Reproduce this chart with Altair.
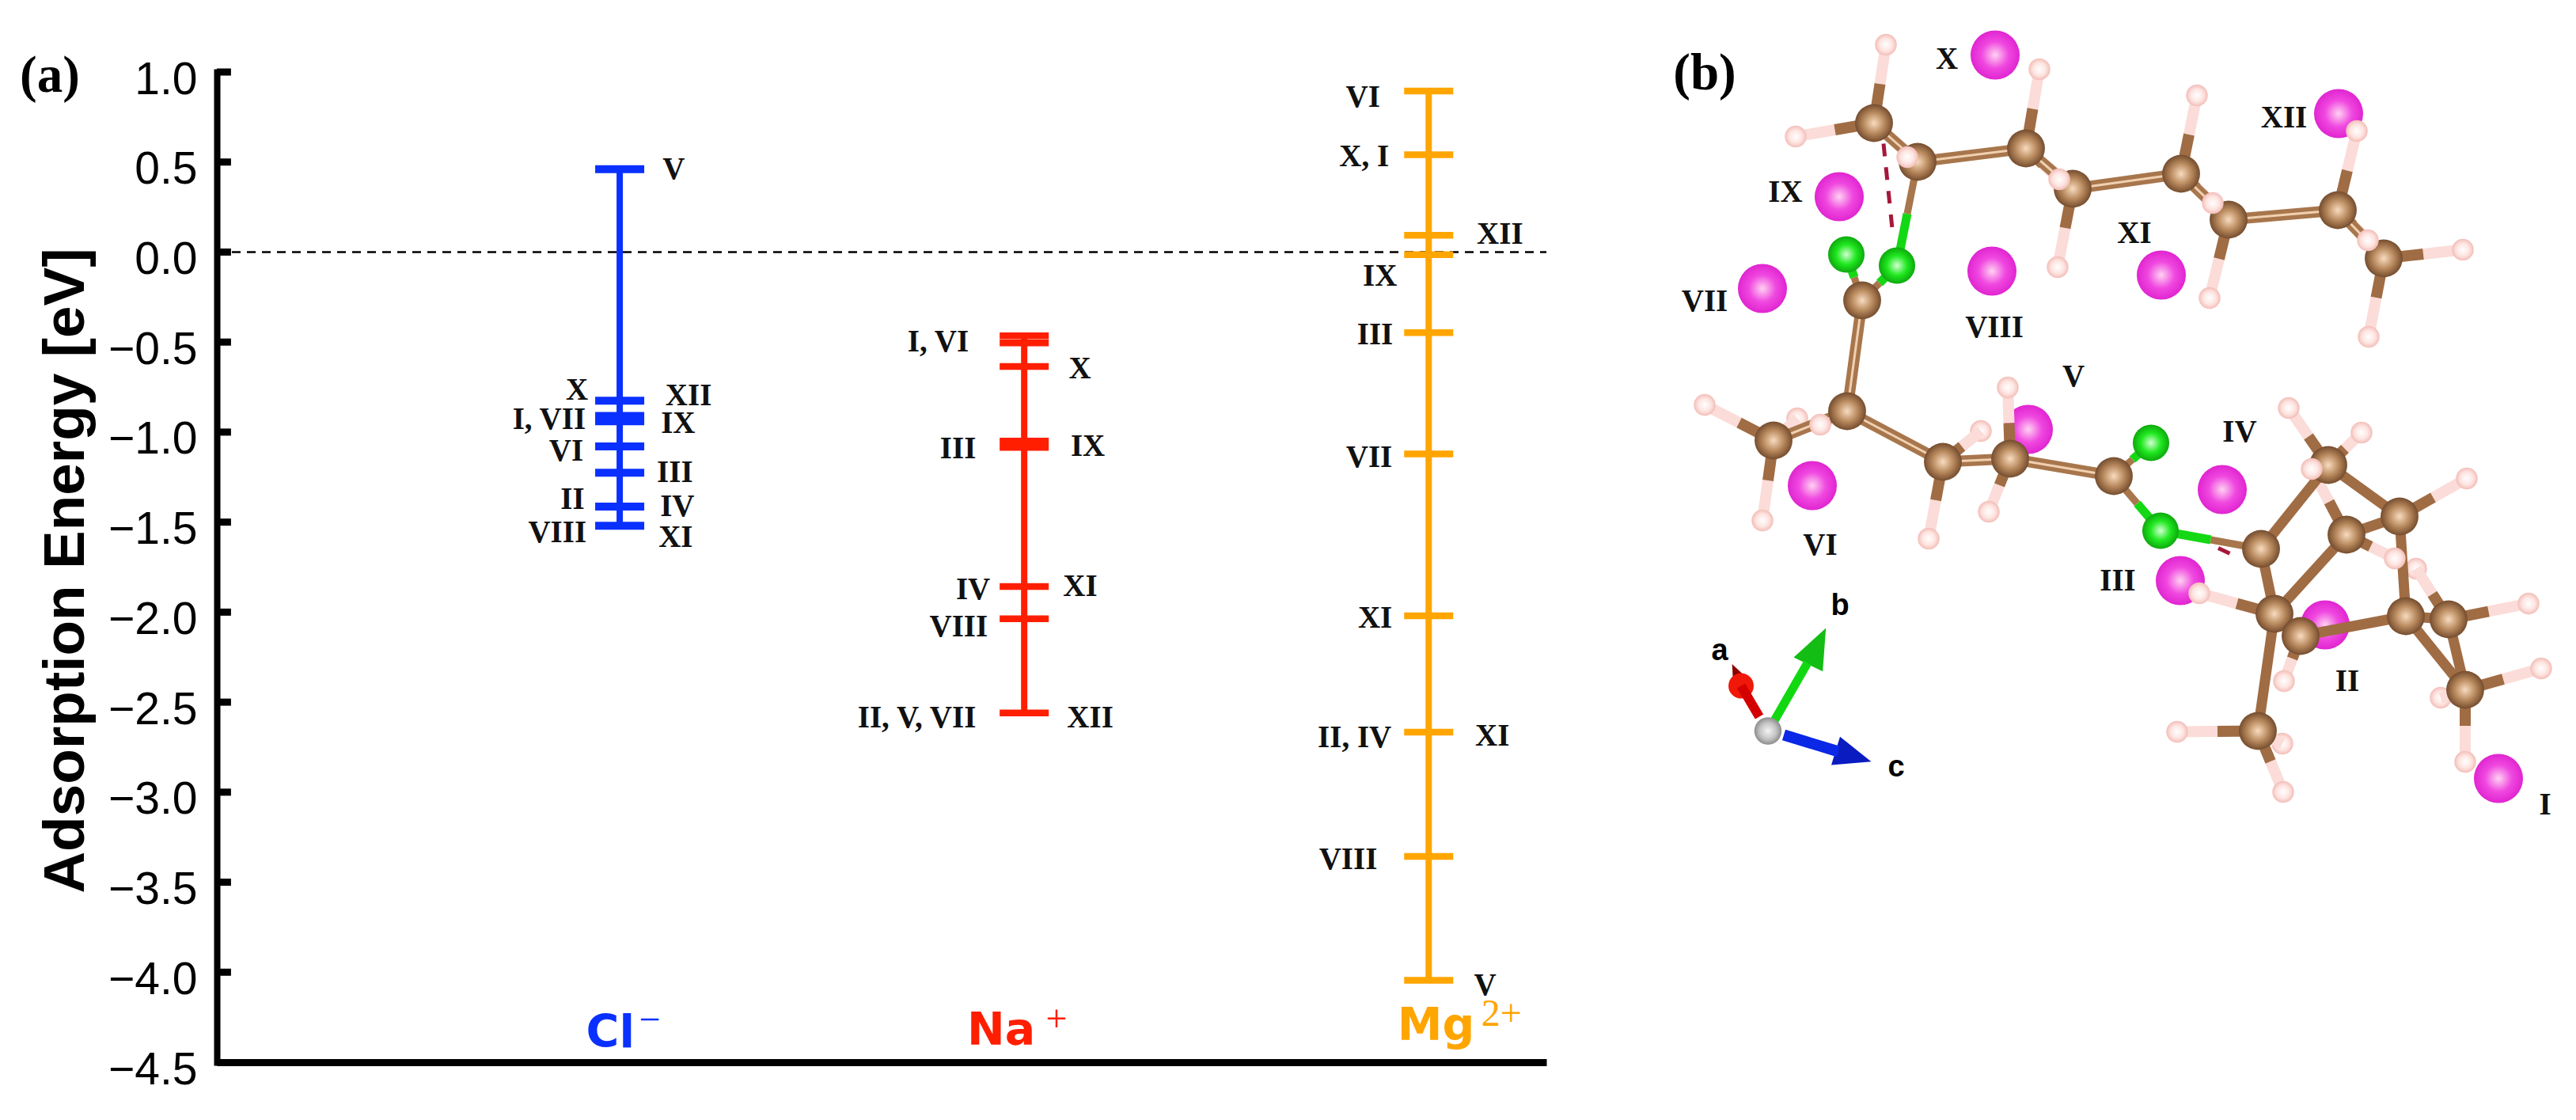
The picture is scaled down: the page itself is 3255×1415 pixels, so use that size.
import altair as alt
import pandas as pd

# ---------- panel (a) data: adsorption energies in eV ----------
ion_pos = [1, 2, 3]
ion_colors = ["#0a30ff", "#ff1e00", "#ffa500"]
cl_levels = [0.46, -0.826, -0.91, -0.94, -1.08, -1.226, -1.414, -1.52]
na_levels = [-0.465, -0.505, -0.636, -1.05, -1.085, -1.858, -2.037, -2.56]
mg_levels = [0.895, 0.541, 0.093, -0.014, -0.448, -1.121, -2.02, -2.667, -3.357, -4.045]

y_ticks = [1.0, 0.5, 0.0, -0.5, -1.0, -1.5, -2.0, -2.5, -3.0, -3.5, -4.0, -4.5]

# site labels: text, x (ion axis units), y (eV)
left_text = ["X", "I, VII", "VI", "II", "VIII",
             "I, VI", "III", "IV", "VIII", "II, V, VII",
             "VI", "X, I", "IX", "III", "VII", "XI", "II, IV", "VIII"]
left_x = [0.922, 0.916, 0.910, 0.913, 0.918,
          1.863, 1.881, 1.916, 1.910, 1.881,
          2.880, 2.902, 2.922, 2.912, 2.910, 2.910, 2.908, 2.873]
left_y = [-0.767, -0.93, -1.107, -1.374, -1.558,
          -0.501, -1.091, -1.876, -2.082, -2.588,
          0.858, 0.529, -0.133, -0.461, -1.143, -2.035, -2.698, -3.376]
right_text = ["V", "XII", "IX", "III", "IV", "XI",
              "X", "IX", "XI", "XII",
              "XII", "XI", "V"]
right_x = [1.106, 1.113, 1.102, 1.092, 1.100, 1.096,
           2.110, 2.115, 2.096, 2.106,
           3.119, 3.115, 3.112]
right_y = [0.458, -0.798, -0.952, -1.224, -1.414, -1.586,
           -0.648, -1.079, -1.858, -2.588,
           0.10, -2.689, -4.073]

ion_names = ["Cl", "Na", "Mg"]
ion_name_x = [0.977, 1.943, 3.018]
ion_name_y = [-4.343, -4.33, -4.30]
ion_sup = ["\u2212", "+", "2+"]
ion_sup_x = [1.074, 2.080, 3.180]
ion_sup_y = [-4.27, -4.265, -4.238]

# ---------- panel (b) data: picture coordinates of the structure ----------
mg_site_x = [3157, 2938, 2755, 2808, 2563, 2290, 2227, 2517, 2324, 2521, 2731, 2955]
mg_site_y = [983, 789, 733, 618, 542, 613, 364, 342, 248, 69, 347, 143]
c_x = [2368, 2423, 2560, 2619, 2756, 2816, 2954, 3012, 2353, 2334, 2241, 2455,
       2540, 2671, 2942, 3032, 2965, 2857, 2874, 2907, 3040, 3094, 3115, 2853]
c_y = [155, 204, 187, 238, 219, 277, 265, 326, 379, 519, 556, 583,
       579, 601, 587, 652, 675, 693, 775, 803, 778, 782, 871, 923]
h_x = [2383, 2269, 2410, 2577, 2602, 2600, 2776, 2796, 2792, 2978, 2992, 3112,
       2993, 2154, 2300, 2271, 2227, 2503, 2537, 2437, 2513, 2892, 2984, 2921,
       3117, 3026, 3053, 2779, 2886, 2751, 2884, 2885, 3195, 3211, 3084, 3115]
h_y = [56, 172, 198, 87, 226, 337, 120, 256, 376, 165, 303, 315,
       425, 511, 536, 528, 657, 544, 489, 680, 646, 515, 546, 592,
       604, 705, 718, 749, 860, 924, 939, 1000, 762, 844, 881, 962]
back_h = [16, 18, 27, 31, 35]
cl_x = [2333, 2397, 2718, 2730]
cl_y = [321, 335, 559, 670]
chain_bonds = [(1, 2), (2, 3), (3, 4), (4, 5), (5, 6), (6, 7), (7, 8), (9, 10), (10, 11),
               (10, 12), (12, 13), (13, 14)]
ring_bonds = [(15, 18), (15, 16), (16, 17), (17, 19), (16, 21), (19, 20), (18, 19), (20, 21),
              (21, 22), (21, 23), (19, 24), (22, 23)]
ch_bonds = [(1, 1), (1, 2), (2, 3), (3, 4), (3, 5), (4, 6), (5, 7), (5, 8), (6, 9), (7, 10),
            (7, 11), (8, 12), (8, 13), (10, 15), (11, 14), (11, 16), (11, 17), (12, 18),
            (12, 20), (13, 19), (13, 21), (15, 22), (15, 23), (17, 24), (16, 25), (17, 26),
            (22, 27), (19, 28), (20, 29), (24, 30), (24, 31), (24, 32), (22, 33), (23, 34),
            (23, 35), (23, 36)]
ccl_bonds = [(2, 2), (9, 1), (9, 2), (14, 3), (14, 4), (18, 4)]
site_text = ["I", "II", "III", "IV", "V", "VI", "VII", "VIII", "IX", "X", "XI", "XII"]
site_text_x = [3216, 2966, 2676, 2830, 2620, 2300, 2154, 2520, 2256, 2460, 2697, 2886]
site_text_y = [1016, 860, 733, 545, 475, 688, 380, 413, 242, 74, 294, 148]
dash_x = [2380, 2803]
dash_y = [181, 692]
dash_x2 = [2392, 2820]
dash_y2 = [298, 700]
triad_ball = (2234, 923)
shaft_x = [2223, 2242, 2254]
shaft_y = [905, 910, 928]
shaft_x2 = [2200, 2284, 2323]
shaft_y2 = [866, 837, 949]
shaft_color = ["#d40000", "#12d812", "#0a28e6"]
shaft_width = [12, 11, 14]
cone_x = [2195, 2296, 2342]
cone_y = [852, 816, 955]
cone_angle = [335, 26, 107]
cone_side = [30, 51, 47]
cone_color = ["#8a0000", "#14bd14", "#0a1cc0"]
axis_text = ["a", "b", "c"]
axis_text_x = [2173, 2325, 2396]
axis_text_y = [822, 765, 969]

# ---------- panel (a) ----------
XS = alt.Scale(domain=[0.004, 3.291], nice=False, zero=False)
YS = alt.Scale(domain=[-4.5, 1.0], nice=False, zero=False)

y_axis = alt.Axis(
    values=y_ticks, grid=False, ticks=False, format=".1f",
    labelFont="Liberation Sans", labelFontSize=57, labelColor="black", labelPadding=25,
    labelOffset=10, labelBaseline="middle",
    domainColor="black", domainWidth=8, domainCap="square",
    title="Adsorption Energy [eV]", titleFont="Liberation Sans", titleFontSize=73,
    titleFontWeight="bold", titleColor="black", titleX=-169, titleY=629.5,
    titleBaseline="alphabetic",
)
x_axis = alt.Axis(values=[], grid=False, ticks=False, labels=False, title=None,
                  domainColor="black", domainWidth=9)
ax = alt.X("x:Q", scale=XS, axis=x_axis)
ay = alt.Y("y:Q", scale=YS, axis=y_axis)

frame = alt.Chart(pd.DataFrame({"x": [0.004], "x2": [3.291], "y": [0.0]})).mark_rule(
    strokeDash=[11, 8], strokeWidth=2.6, color="black"
).encode(y=ay, x=ax, x2="x2:Q")

ticks = alt.Chart(pd.DataFrame({"y": y_ticks[:-1], "x": [0.004] * 11, "x2": [0.039] * 11})).mark_rule(
    strokeWidth=9, color="black"
).encode(x=ax, x2="x2:Q", y=ay)

layers = [frame, ticks]
for pos, col, lv, th in zip(ion_pos, ion_colors, [cl_levels, na_levels, mg_levels], [10, 8.5, 8.5]):
    d = pd.DataFrame({"x": [pos] * len(lv), "y": lv})
    stem = alt.Chart(pd.DataFrame({"x": [pos], "y": [max(lv)], "y2": [min(lv)]})).mark_rule(
        color=col, strokeWidth=8).encode(x=ax, y=ay, y2="y2:Q")
    caps = alt.Chart(d).mark_tick(color=col, orient="horizontal", size=62, thickness=th, opacity=1).encode(x=ax, y=ay)
    layers += [stem, caps]

roman = dict(font="Liberation Serif", fontSize=39, fontWeight="bold", color="#111111", baseline="middle")
layers.append(alt.Chart(pd.DataFrame({"x": left_x, "y": left_y, "t": left_text})).mark_text(align="right", **roman).encode(x=ax, y=ay, text="t:N"))
layers.append(alt.Chart(pd.DataFrame({"x": right_x, "y": right_y, "t": right_text})).mark_text(align="left", **roman).encode(x=ax, y=ay, text="t:N"))

for i in range(3):
    layers.append(alt.Chart(pd.DataFrame({"x": [ion_name_x[i]], "y": [ion_name_y[i]], "t": [ion_names[i]]})).mark_text(
        font="DejaVu Sans", fontSize=57, fontWeight="bold", color=ion_colors[i], baseline="middle", align="center"
    ).encode(x=ax, y=ay, text="t:N"))
    layers.append(alt.Chart(pd.DataFrame({"x": [ion_sup_x[i]], "y": [ion_sup_y[i]], "t": [ion_sup[i]]})).mark_text(
        font="Liberation Serif", fontSize=48, color=ion_colors[i], baseline="middle", align="center"
    ).encode(x=ax, y=ay, text="t:N"))

panel_mark = dict(font="Liberation Serif", fontSize=65, fontWeight="bold", color="black", baseline="middle", align="center")
layers.append(alt.Chart(pd.DataFrame({"x": [-0.409], "y": [0.98], "t": ["(a)"]})).mark_text(**panel_mark).encode(x=ax, y=ay, text="t:N"))

panel_a = alt.layer(*layers).properties(width=1680, height=1251)

# ---------- panel (b) ----------
BXS = alt.Scale(domain=[2000, 3240], nice=False, zero=False)
BYS = alt.Scale(domain=[1341.5, 90.5], nice=False, zero=False)
bx = alt.X("x:Q", scale=BXS, axis=None)
by = alt.Y("y:Q", scale=BYS, axis=None)


def ball(stops):
    return alt.RadialGradient(
        gradient="radial", x1=0.5, y1=0.5, r1=0, x2=0.5, y2=0.5, r2=0.5,
        stops=[alt.GradientStop(offset=o, color=c) for o, c in stops])


PINK = ball([(0, "#ffd2f2"), (0.55, "#f048e0"), (1, "#e025d0")])
BROWN = ball([(0, "#f8dcc0"), (0.55, "#b98a5e"), (1, "#744c2e")])
WHITE = ball([(0, "#ffffff"), (0.6, "#fde4e0"), (1, "#f3bdb8")])
GREEN = ball([(0, "#d2ffd2"), (0.55, "#1ee81e"), (1, "#0fa80f")])
GREY = ball([(0, "#f4f4f4"), (0.6, "#c4c4c4"), (1, "#8c8c8c")])


def atoms(xs, ys, fill, d):
    return alt.Chart(pd.DataFrame({"x": xs, "y": ys})).mark_circle(
        fill=fill, size=3.1416 * d * d / 4, opacity=1, stroke=None).encode(x=bx, y=by)


def bonds(xs, ys, xs2, ys2, color, width):
    return alt.Chart(pd.DataFrame({"x": xs, "y": ys, "x2": xs2, "y2": ys2})).mark_rule(
        color=color, strokeWidth=width).encode(x=bx, y=by, x2="x2:Q", y2="y2:Q")


def pair_bonds(pairs, color, width):
    return bonds([c_x[a - 1] for a, b in pairs], [c_y[a - 1] for a, b in pairs],
                 [c_x[b - 1] for a, b in pairs], [c_y[b - 1] for a, b in pairs], color, width)


ch_c = [(c_x[a - 1], c_y[a - 1]) for a, b in ch_bonds]
ch_h = [(h_x[b - 1], h_y[b - 1]) for a, b in ch_bonds]
ch_m = [((p[0] + q[0]) / 2, (p[1] + q[1]) / 2) for p, q in zip(ch_c, ch_h)]
ccl_c = [(c_x[a - 1], c_y[a - 1]) for a, b in ccl_bonds]
ccl_l = [(cl_x[b - 1], cl_y[b - 1]) for a, b in ccl_bonds]
ccl_m = [((p[0] + q[0]) / 2, (p[1] + q[1]) / 2) for p, q in zip(ccl_c, ccl_l)]

front_ids = [i for i in range(36) if i + 1 not in back_h]
back_ids = [i - 1 for i in back_h]

b_layers = [
    atoms(mg_site_x, mg_site_y, PINK, 70),
    atoms([h_x[i] for i in back_ids], [h_y[i] for i in back_ids], WHITE, 31),
    bonds([p[0] for p in ch_h], [p[1] for p in ch_h], [p[0] for p in ch_m], [p[1] for p in ch_m], "#fbdcd8", 14),
    bonds([p[0] for p in ch_c], [p[1] for p in ch_c], [p[0] for p in ch_m], [p[1] for p in ch_m], "#a06c44", 14),
    pair_bonds(chain_bonds, "#a8764c", 14),
    pair_bonds(chain_bonds, "#f0d0b0", 3),
    pair_bonds(ring_bonds, "#a06c44", 13),
    bonds([p[0] for p in ccl_l], [p[1] for p in ccl_l], [p[0] for p in ccl_m], [p[1] for p in ccl_m], "#14d814", 11),
    bonds([p[0] for p in ccl_c], [p[1] for p in ccl_c], [p[0] for p in ccl_m], [p[1] for p in ccl_m], "#a8764c", 9),
    alt.Chart(pd.DataFrame({"x": dash_x, "y": dash_y, "x2": dash_x2, "y2": dash_y2})).mark_rule(
        color="#a5183a", strokeWidth=5, strokeDash=[16, 14]).encode(x=bx, y=by, x2="x2:Q", y2="y2:Q"),
    atoms(cl_x, cl_y, GREEN, 52),
    atoms(c_x, c_y, BROWN, 54),
    atoms([h_x[i] for i in front_ids], [h_y[i] for i in front_ids], WHITE, 31),
]

# crystal axes triad
for i in range(3):
    b_layers.append(alt.Chart(pd.DataFrame({"x": [cone_x[i]], "y": [cone_y[i]], "a": [cone_angle[i]]})).mark_point(
        shape="M0,-1L-0.8,1L0.8,1Z", filled=True, fill=cone_color[i], size=cone_side[i] ** 2, opacity=1, strokeWidth=0
    ).encode(x=bx, y=by, angle=alt.Angle("a:Q", scale=None)))
b_layers.append(atoms([shaft_x2[0]], [shaft_y2[0]], "#f01808", 36))
for i in range(3):
    b_layers.append(bonds([shaft_x[i]], [shaft_y[i]], [shaft_x2[i]], [shaft_y2[i]], shaft_color[i], shaft_width[i]))
b_layers.append(atoms([triad_ball[0]], [triad_ball[1]], GREY, 39))

b_layers.append(alt.Chart(pd.DataFrame({"x": site_text_x, "y": site_text_y, "t": site_text})).mark_text(
    align="center", **roman).encode(x=bx, y=by, text="t:N"))
b_layers.append(alt.Chart(pd.DataFrame({"x": axis_text_x, "y": axis_text_y, "t": axis_text})).mark_text(
    font="Liberation Sans", fontSize=38, fontWeight="bold", color="black", baseline="middle", align="center"
).encode(x=bx, y=by, text="t:N"))
b_layers.append(alt.Chart(pd.DataFrame({"x": [2154], "y": [92], "t": ["(b)"]})).mark_text(**panel_mark).encode(x=bx, y=by, text="t:N"))

panel_b = alt.layer(*b_layers).properties(width=1240, height=1251)

chart = alt.hconcat(panel_a, panel_b, spacing=46, bounds="flush").properties(
    padding={"left": 17, "top": 30, "right": 0, "bottom": 0}, background="white"
).configure_view(stroke=None)

chart.save("out.html", embed_options={"renderer": "svg", "actions": False})
